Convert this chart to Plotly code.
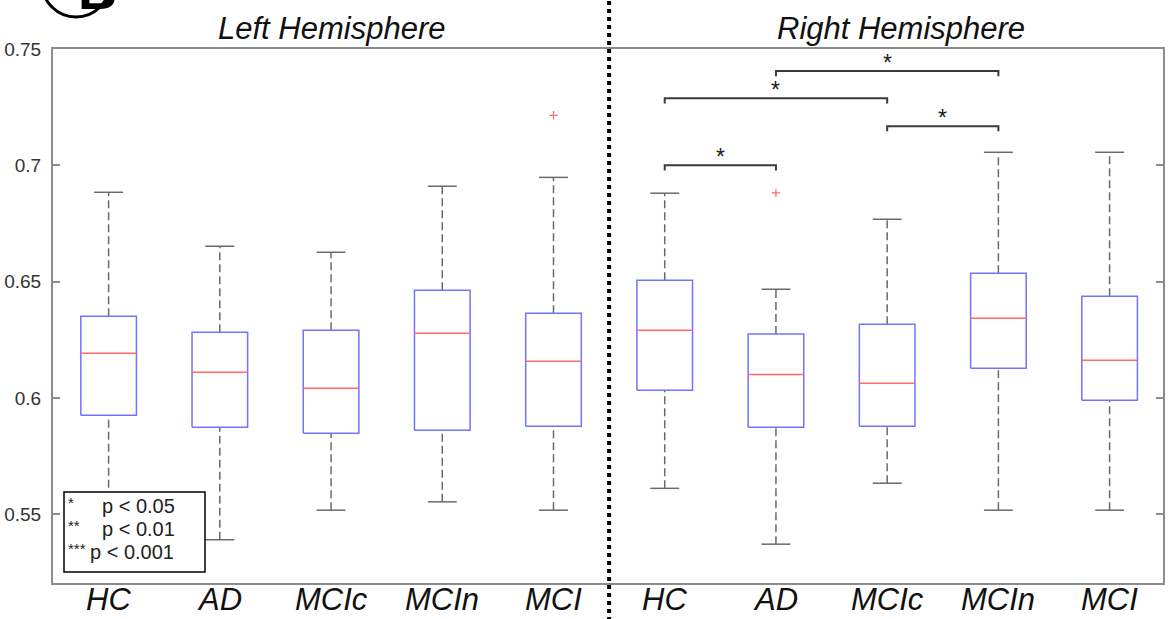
import plotly.graph_objects as go

groups = ["HC", "AD", "MCIc", "MCIn", "MCI"]
hemispheres = ["Left Hemisphere", "Right Hemisphere"]
panel_letter = "B"

left_lower = [0.5510, 0.5390, 0.5517, 0.5553, 0.5517]
left_q1 = [0.5925, 0.5874, 0.5848, 0.5861, 0.5878]
left_median = [0.6192, 0.6110, 0.6041, 0.6278, 0.6157]
left_q3 = [0.6351, 0.6282, 0.6291, 0.6463, 0.6364]
left_upper = [0.6884, 0.6652, 0.6626, 0.6910, 0.6948]

right_lower = [0.5611, 0.5371, 0.5633, 0.5517, 0.5517]
right_q1 = [0.6033, 0.5874, 0.5878, 0.6127, 0.5990]
right_median = [0.6291, 0.6100, 0.6063, 0.6342, 0.6162]
right_q3 = [0.6506, 0.6275, 0.6316, 0.6536, 0.6437]
right_upper = [0.6880, 0.6467, 0.6768, 0.7056, 0.7056]

outlier_pos = [5, 7]
outlier_val = [0.7215, 0.6881]

sig_from = [6, 6, 7, 8]
sig_to = [7, 8, 9, 9]
sig_height = [0.7000, 0.7288, 0.7405, 0.7168]
sig_label = ["*", "*", "*", "*"]

legend_stars = ["*", "**", "***"]
legend_text = ["p < 0.05", "p < 0.01", "p < 0.001"]

y_ticks = [0.55, 0.6, 0.65, 0.7, 0.75]
y_tick_text = ["0.55", "0.6", "0.65", "0.7", "0.75"]

FONT = "Arial, 'Liberation Sans', sans-serif"
BOX_BLUE = "#7373ff"
MED_RED = "#ff6a6a"
WHISK = "#6a6a6a"
AXIS = "#8c8c8c"

x_min, x_max = 0.5, 10.48
half_w = 0.25
cap_w = 0.13

lower = left_lower + right_lower
q1 = left_q1 + right_q1
med = left_median + right_median
q3 = left_q3 + right_q3
upper = left_upper + right_upper
positions = list(range(1, len(lower) + 1))
labels = groups + groups

W, H = 1168, 619
ml, mr, mt, mb = 53, 5, 49, 36
pw, ph = W - ml - mr, H - mt - mb
def px(x):
    return (x - ml) / pw
def py(y):
    return (H - mb - y) / ph

fig = go.Figure()

# whiskers (dashed)
wx, wy = [], []
for p, lo, a, b, hi in zip(positions, lower, q1, q3, upper):
    wx += [p, p, None, p, p, None]
    wy += [lo, a, None, b, hi, None]
fig.add_trace(go.Scatter(x=wx, y=wy, mode="lines",
                         line=dict(color=WHISK, width=1.5, dash="8px,4px"),
                         hoverinfo="skip", showlegend=False))
# caps
cx, cy = [], []
for p, lo, hi in zip(positions, lower, upper):
    cx += [p - cap_w, p + cap_w, None, p - cap_w, p + cap_w, None]
    cy += [lo, lo, None, hi, hi, None]
fig.add_trace(go.Scatter(x=cx, y=cy, mode="lines",
                         line=dict(color=WHISK, width=1.5),
                         hoverinfo="skip", showlegend=False))
# boxes
bx, by = [], []
for p, a, b in zip(positions, q1, q3):
    bx += [p - half_w, p + half_w, p + half_w, p - half_w, p - half_w, None]
    by += [a, a, b, b, a, None]
fig.add_trace(go.Scatter(x=bx, y=by, mode="lines",
                         line=dict(color=BOX_BLUE, width=1.5),
                         hoverinfo="skip", showlegend=False))
# medians
mx, my = [], []
for p, m in zip(positions, med):
    mx += [p - half_w, p + half_w, None]
    my += [m, m, None]
fig.add_trace(go.Scatter(x=mx, y=my, mode="lines",
                         line=dict(color=MED_RED, width=1.5),
                         hoverinfo="skip", showlegend=False))
# outliers
fig.add_trace(go.Scatter(x=outlier_pos, y=outlier_val, mode="markers",
                         marker=dict(symbol="cross-thin", size=6,
                                     line=dict(color=MED_RED, width=1.2)),
                         hoverinfo="skip", showlegend=False))
# significance brackets
drop = 0.0022
for a, b, h, lab in zip(sig_from, sig_to, sig_height, sig_label):
    fig.add_trace(go.Scatter(x=[a, a, b, b], y=[h - drop, h, h, h - drop],
                             mode="lines", line=dict(color="#3a3a3a", width=2),
                             hoverinfo="skip", showlegend=False))
    fig.add_annotation(x=(a + b) / 2, y=h, xref="x", yref="y", text=lab,
                       showarrow=False, yanchor="bottom", yshift=-7,
                       font=dict(family=FONT, size=23, color="#222"))

# group labels under the axis
for p, lab in zip(positions, labels):
    fig.add_annotation(x=p, y=py(599), xref="x", yref="paper", text="<i>" + lab + "</i>",
                       showarrow=False, yanchor="middle",
                       font=dict(family=FONT, size=31, color="#111"))

# hemisphere titles
for txt, xc in zip(hemispheres, [3.0, 8.12]):
    fig.add_annotation(x=xc, y=py(28), xref="x", yref="paper", text="<i>" + txt + "</i>",
                       showarrow=False, yanchor="middle",
                       font=dict(family=FONT, size=31, color="#111"))

# panel letter (mostly above the visible page, as in the reference)
fig.add_shape(type="circle", xref="paper", yref="paper",
              x0=px(42), x1=px(110), y0=py(17), y1=py(-51),
              line=dict(color="black", width=3))
fig.add_annotation(x=px(76), y=py(-10), xref="paper", yref="paper",
                   text="<b>" + panel_letter + "</b>", showarrow=False,
                   yanchor="middle", font=dict(family=FONT, size=54, color="black"))

# divider between hemispheres
div_x = (5.5 - x_min) / (x_max - x_min)
fig.add_shape(type="line", xref="paper", yref="paper", x0=div_x, x1=div_x,
              y0=py(H + 2), y1=py(-2), line=dict(color="black", width=4, dash="dot"))

# significance key
fig.add_shape(type="rect", xref="paper", yref="paper",
              x0=px(64), x1=px(205), y0=py(572), y1=py(492),
              line=dict(color="black", width=1.5), fillcolor="white", layer="above")
rows_y = [506, 529, 552]
text_x = [102, 102, 90]
for s, t, ry, tx in zip(legend_stars, legend_text, rows_y, text_x):
    fig.add_annotation(x=px(66), y=py(ry - 4), xref="paper", yref="paper", text=s,
                       showarrow=False, xanchor="left", yanchor="middle",
                       font=dict(family=FONT, size=15, color="#222"))
    fig.add_annotation(x=px(tx), y=py(ry), xref="paper", yref="paper", text=t,
                       showarrow=False, xanchor="left", yanchor="middle", xshift=-2,
                       font=dict(family=FONT, size=20, color="#222"))

fig.update_layout(
    width=W, height=H,
    margin=dict(l=ml, r=mr, t=mt, b=mb, autoexpand=False),
    paper_bgcolor="white", plot_bgcolor="white",
    showlegend=False,
    font=dict(family=FONT),
)
fig.update_xaxes(range=[x_min, x_max], tickvals=positions, showticklabels=False,
                 showline=True, linecolor=AXIS, linewidth=2, mirror=True,
                 ticks="", showgrid=False, zeroline=False, automargin=False)
fig.update_yaxes(range=[0.5204, 0.75], tickvals=y_ticks, ticktext=y_tick_text,
                 tickfont=dict(family=FONT, size=19, color="#333"),
                 showline=True, linecolor=AXIS, linewidth=2, mirror="ticks",
                 ticks="inside", ticklen=7, tickcolor=AXIS, tickwidth=1.5,
                 ticklabelstandoff=6, automargin=False,
                 showgrid=False, zeroline=False)

fig.write_html("out.html", config={"displayModeBar": False},
               post_script="document.body.style.margin='0px';document.body.style.overflow='hidden';")
